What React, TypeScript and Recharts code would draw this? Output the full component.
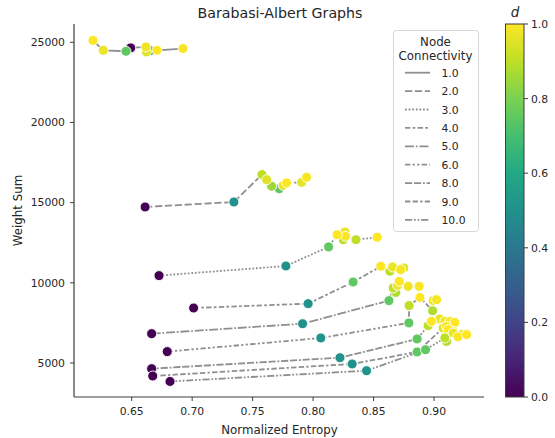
import React from 'react';
import { ScatterChart, Scatter, XAxis, YAxis } from 'recharts';

// ---------- data ----------
const connectivity = [1, 2, 3, 4, 5, 6, 8, 9, 10];
const connectivityLabels = ['1.0', '2.0', '3.0', '4.0', '5.0', '6.0', '8.0', '9.0', '10.0'];

const ent1 = [0.618, 0.6265, 0.6453, 0.6492, 0.6618, 0.6622, 0.6651, 0.6709, 0.6924];
const w1 = [25120, 24500, 24440, 24650, 24710, 24400, 24480, 24500, 24610];
const d1 = [1.0, 0.97, 0.75, 0.0, 0.98, 0.95, 0.5, 1.0, 0.99];

const ent2 = [0.6611, 0.7345, 0.7577, 0.7616, 0.7657, 0.772, 0.7753, 0.7781, 0.7905, 0.7946];
const w2 = [14730, 15040, 16750, 16430, 16020, 15870, 16080, 16230, 16270, 16580];
const d2 = [0.0, 0.5, 0.9, 0.95, 0.85, 0.75, 0.97, 1.0, 0.96, 0.99];

const ent3 = [0.6726, 0.7775, 0.8128, 0.8199, 0.8249, 0.8263, 0.8267, 0.8354, 0.853];
const w3 = [10450, 11050, 12240, 13000, 12690, 13170, 12900, 12690, 12840];
const d3 = [0.0, 0.5, 0.75, 1.0, 0.9, 0.97, 0.99, 0.9, 1.0];

const ent4 = [0.7012, 0.7959, 0.8331, 0.856, 0.8635, 0.8657, 0.8723, 0.875];
const w4 = [8430, 8700, 10050, 11030, 10720, 10990, 10820, 10930];
const d4 = [0.0, 0.5, 0.75, 1.0, 0.9, 0.97, 0.99, 0.96];

const ent5 = [0.6665, 0.7913, 0.8627, 0.8662, 0.8684, 0.8698, 0.8712, 0.8786, 0.8877];
const w5 = [6830, 7450, 8890, 9680, 9400, 9840, 10090, 9780, 9780];
const d5 = [0.0, 0.5, 0.75, 0.9, 0.88, 0.97, 1.0, 0.98, 0.99];

const ent6 = [0.6794, 0.8064, 0.8792, 0.8794, 0.8883, 0.8988, 0.8993, 0.9021];
const w6 = [5710, 6560, 7500, 8580, 9090, 8260, 8890, 8950];
const d6 = [0.0, 0.5, 0.75, 0.9, 1.0, 0.88, 0.97, 0.99];

const ent8 = [0.6665, 0.8222, 0.886, 0.8951, 0.8979, 0.9048, 0.9089, 0.9131, 0.9172];
const w8 = [4645, 5330, 6500, 7330, 7600, 7750, 7600, 7600, 7530];
const d8 = [0.0, 0.5, 0.75, 0.9, 1.0, 0.97, 0.98, 0.99, 1.0];

const ent9 = [0.6674, 0.8323, 0.886, 0.9075, 0.9103, 0.9117, 0.9158, 0.9227];
const w9 = [4190, 4940, 5690, 7180, 7280, 7080, 6970, 6770];
const d9 = [0.0, 0.5, 0.75, 0.95, 0.99, 1.0, 0.98, 0.97];

const ent10 = [0.6817, 0.8442, 0.893, 0.9089, 0.9103, 0.9158, 0.9197, 0.9269];
const w10 = [3850, 4520, 5830, 6560, 6350, 6870, 6640, 6770];
const d10 = [0.0, 0.5, 0.75, 0.9, 0.88, 0.97, 0.99, 1.0];

const xTicks = [0.65, 0.7, 0.75, 0.8, 0.85, 0.9];
const yTicks = [5000, 10000, 15000, 20000, 25000];
const cbTicks = [0.0, 0.2, 0.4, 0.6, 0.8, 1.0];

// ---------- styles ----------
const FONT = '"DejaVu Sans", Verdana, sans-serif';
const TXT = '#262626';
const SPINE = '#3d3d3d';
const LINE_GRAY = '#8f8f8f';
const LW = 1.8;
const DASH_UNITS: number[][] = [
  [],
  [4, 1.5],
  [1, 1],
  [3, 1.25, 1.5, 1.25],
  [5, 1, 1, 1],
  [3, 1.25, 1.25, 1.25, 1.25, 1.25],
  [4, 1, 4, 1, 1, 1],
  [3, 1.25, 3, 1.25, 1.25, 1.25],
  [4, 1, 1, 1, 1, 1],
];
const dashOf = (i: number) =>
  DASH_UNITS[i].length ? DASH_UNITS[i].map((v) => (v * LW).toFixed(2)).join(' ') : undefined;

const VIRIDIS = ['#440154', '#482475', '#414487', '#355f8d', '#2a788e', '#21918c', '#22a884', '#44bf70', '#7ad151', '#bddf26', '#fde725'];
const hexToRgb = (h: string) => [parseInt(h.slice(1, 3), 16), parseInt(h.slice(3, 5), 16), parseInt(h.slice(5, 7), 16)];
function viridis(t: number) {
  const c = Math.max(0, Math.min(1, t)) * 10;
  const i = Math.min(9, Math.floor(c));
  const f = c - i;
  const a = hexToRgb(VIRIDIS[i]);
  const b = hexToRgb(VIRIDIS[i + 1]);
  const m = a.map((v, k) => Math.round(v + (b[k] - v) * f));
  return `rgb(${m[0]},${m[1]},${m[2]})`;
}

const raw = [
  [ent1, w1, d1], [ent2, w2, d2], [ent3, w3, d3], [ent4, w4, d4], [ent5, w5, d5],
  [ent6, w6, d6], [ent8, w8, d8], [ent9, w9, d9], [ent10, w10, d10],
];
const series = raw.map(([e, w, d], si) => {
  const pts = (e as number[]).map((x, i) => ({ x, y: (w as number[])[i], d: (d as number[])[i] }));
  return {
    c: connectivity[si],
    line: [...pts].sort((a, b) => a.x - b.x),
    dots: [...pts].sort((a, b) => a.d - b.d),
  };
});

const xDomain: [number, number] = [0.6023, 0.9413];
const yDomain: [number, number] = [2880, 26140];

const Dot = (props: any) => {
  const { cx, cy, payload } = props;
  if (cx == null || cy == null) return <g />;
  return <circle cx={cx} cy={cy} r={5} fill={viridis(payload.d)} stroke="#ffffff" strokeWidth={0.9} />;
};
const NoDot = () => <g />;

const tickStyle = { fontFamily: FONT, fontSize: 10.8, fill: TXT };

export default function App() {
  const legendTop = 72.7;
  const legendStep = 18.4;
  const cbTop = 24;
  const cbBottom = 397;
  return (
    <div style={{ position: 'absolute', left: 0, top: 0, width: 555, height: 438, background: '#fff' }}>
      <ScatterChart width={555} height={438} margin={{ top: 24, right: 71, bottom: 11, left: 14 }}>
        <XAxis
          type="number"
          dataKey="x"
          domain={xDomain}
          allowDataOverflow
          ticks={xTicks}
          tickFormatter={(v: number) => v.toFixed(2)}
          tick={tickStyle}
          tickSize={4}
          tickMargin={6}
          height={30}
          axisLine={{ stroke: SPINE, strokeWidth: 1.2 }}
          tickLine={{ stroke: SPINE }}
        />
        <YAxis
          type="number"
          dataKey="y"
          domain={yDomain}
          allowDataOverflow
          ticks={yTicks}
          tick={tickStyle}
          tickSize={4}
          tickMargin={5}
          width={60}
          axisLine={{ stroke: SPINE, strokeWidth: 1.2 }}
          tickLine={{ stroke: SPINE }}
        />
        <XAxis xAxisId="top" orientation="top" type="number" domain={xDomain} allowDataOverflow tick={false} tickLine={false} height={0} axisLine={{ stroke: SPINE, strokeWidth: 1.2 }} />
        <YAxis yAxisId="right" orientation="right" type="number" domain={yDomain} allowDataOverflow tick={false} tickLine={false} width={0} axisLine={{ stroke: SPINE, strokeWidth: 1.2 }} />
        {series.map((s, i) => (
          <Scatter
            key={'l' + s.c}
            data={s.line}
            line={{ stroke: LINE_GRAY, strokeWidth: LW, strokeDasharray: dashOf(i) }}
            lineType="joint"
            shape={NoDot}
            isAnimationActive={false}
            legendType="none"
          />
        ))}
        {series.map((s) => (
          <Scatter key={'p' + s.c} data={s.dots} shape={Dot} isAnimationActive={false} legendType="none" />
        ))}
      </ScatterChart>

      <svg width={555} height={438} style={{ position: 'absolute', left: 0, top: 0, pointerEvents: 'none' }}>
        <defs>
          <linearGradient id="vir" x1="0" y1="1" x2="0" y2="0">
            {VIRIDIS.map((c, i) => (
              <stop key={i} offset={`${i * 10}%`} stopColor={c} />
            ))}
          </linearGradient>
        </defs>
        <text x={280} y={17.5} textAnchor="middle" fontFamily={FONT} fontSize={14.2} fill={TXT}>Barabasi-Albert Graphs</text>
        <text x={279.5} y={434} textAnchor="middle" fontFamily={FONT} fontSize={11.8} fill={TXT}>Normalized Entropy</text>
        <text x={0} y={0} transform="translate(22,210.5) rotate(-90)" textAnchor="middle" fontFamily={FONT} fontSize={11.8} fill={TXT}>Weight Sum</text>

        {/* legend */}
        <rect x={393.5} y={30.5} width={85} height={201} rx={3} fill="#ffffff" fillOpacity={0.85} stroke="#d6d6d6" />
        <text x={435.5} y={45.5} textAnchor="middle" fontFamily={FONT} fontSize={11.8} fill={TXT}>Node</text>
        <text x={435.5} y={59.5} textAnchor="middle" fontFamily={FONT} fontSize={11.8} fill={TXT}>Connectivity</text>
        {connectivityLabels.map((lab, i) => {
          const y = legendTop + i * legendStep;
          return (
            <g key={lab}>
              <line x1={405} x2={430} y1={y} y2={y} stroke={LINE_GRAY} strokeWidth={LW} strokeDasharray={dashOf(i)} />
              <text x={441.5} y={y + 4} fontFamily={FONT} fontSize={10.8} fill={TXT}>{lab}</text>
            </g>
          );
        })}

        {/* colorbar */}
        <text x={515} y={17} textAnchor="middle" fontFamily={FONT} fontStyle="italic" fontSize={13.5} fill={TXT}>d</text>
        <rect x={505.5} y={cbTop} width={18.5} height={cbBottom - cbTop} fill="url(#vir)" stroke={SPINE} strokeWidth={1} />
        {cbTicks.map((t) => {
          const y = cbBottom - t * (cbBottom - cbTop);
          return (
            <g key={t}>
              <line x1={524} x2={528} y1={y} y2={y} stroke={SPINE} />
              <text x={531} y={y + 4} fontFamily={FONT} fontSize={10.8} fill={TXT}>{t.toFixed(1)}</text>
            </g>
          );
        })}
      </svg>
    </div>
  );
}
